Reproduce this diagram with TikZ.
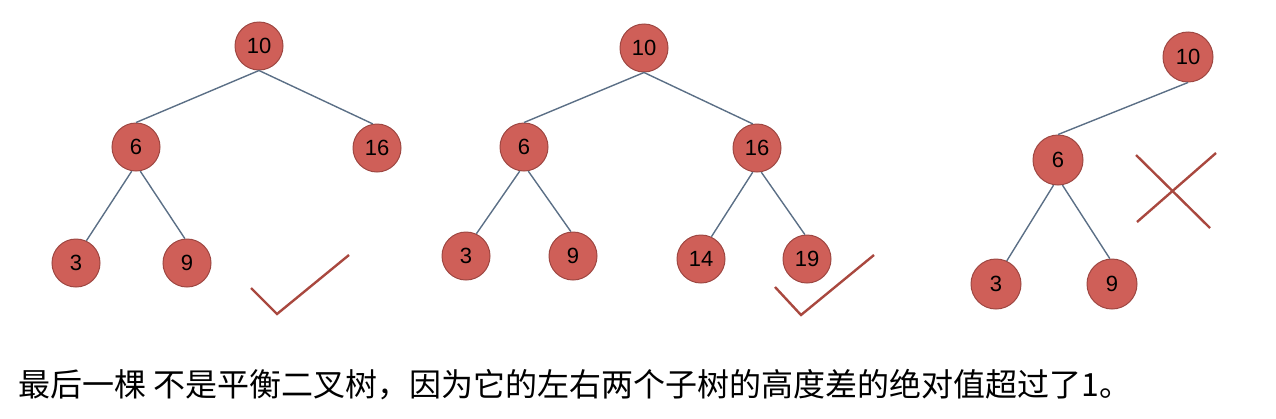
\documentclass[tikz,border=0pt]{standalone}
\usepackage{fontspec}
\setsansfont{Liberation Sans}
\newfontfamily\cjk{Noto Sans CJK SC}
\definecolor{nodefill}{HTML}{CF5F58}
\definecolor{nodeline}{HTML}{9E4742}
\definecolor{edgeline}{HTML}{5B6F86}
\definecolor{markline}{HTML}{A9483F}
\begin{document}
\begin{tikzpicture}[x=1pt,y=-1pt,
  treenode/.style={circle,draw=nodeline,fill=nodefill,line width=1pt,minimum size=48pt,inner sep=0pt,font=\sffamily\fontsize{22}{22}\selectfont},
  bignode/.style={treenode,minimum size=50pt},
  branch/.style={draw=edgeline,line width=1.4pt},
  verdict/.style={draw=markline,line width=2.4pt}]
\useasboundingbox (0,0) rectangle (1276,418);

% First tree (balanced)
\node[treenode] (a10) at (259,46) {10};
\node[treenode] (a6) at (136,147) {6};
\node[treenode] (a16) at (377,148) {16};
\node[treenode] (a3) at (76,263) {3};
\node[treenode] (a9) at (187,263) {9};
\draw[branch] (a10.south) -- (a6.north);
\draw[branch] (a10.south) -- (a16.100);
\draw[branch] (a6.-100) -- (a3.65);
\draw[branch] (a6.-80) -- (a9.95);

% Second tree (balanced)
\node[treenode] (b10) at (644,48) {10};
\node[treenode] (b6) at (524,147) {6};
\node[treenode] (b16) at (757,148) {16};
\node[treenode] (b3) at (466,256) {3};
\node[treenode] (b9) at (573,256) {9};
\node[treenode] (b14) at (701,259) {14};
\node[treenode] (b19) at (807,259) {19};
\draw[branch] (b10.south) -- (b6.north);
\draw[branch] (b10.south) -- (b16.100);
\draw[branch] (b6.-100) -- (b3.65);
\draw[branch] (b6.-80) -- (b9.95);
\draw[branch] (b16.-100) -- (b14.65);
\draw[branch] (b16.-80) -- (b19.95);

% Third tree (not balanced)
\node[bignode] (c10) at (1188,57) {10};
\node[bignode] (c6) at (1058,160) {6};
\node[bignode] (c3) at (996,284) {3};
\node[bignode] (c9) at (1112,284) {9};
\draw[branch] (c10.south) -- (c6.north);
\draw[branch] (c6.-100) -- (c3.65);
\draw[branch] (c6.-80) -- (c9.95);

% Ticks and cross
\draw[verdict] (251,288) -- (277,314) -- (349,255);
\draw[verdict] (775,287) -- (801,315) -- (874,255);
\draw[verdict] (1136,155) -- (1210,228);
\draw[verdict] (1137,222) -- (1216,153);

% Caption
\node[anchor=base west,inner sep=0pt,font=\cjk\fontsize{32}{32}\selectfont] (caption) at (18,396)
  {最后一棵 不是平衡二叉树，因为它的左右两个子树的高度差的绝对值超过了1。};
\end{tikzpicture}
\end{document}
